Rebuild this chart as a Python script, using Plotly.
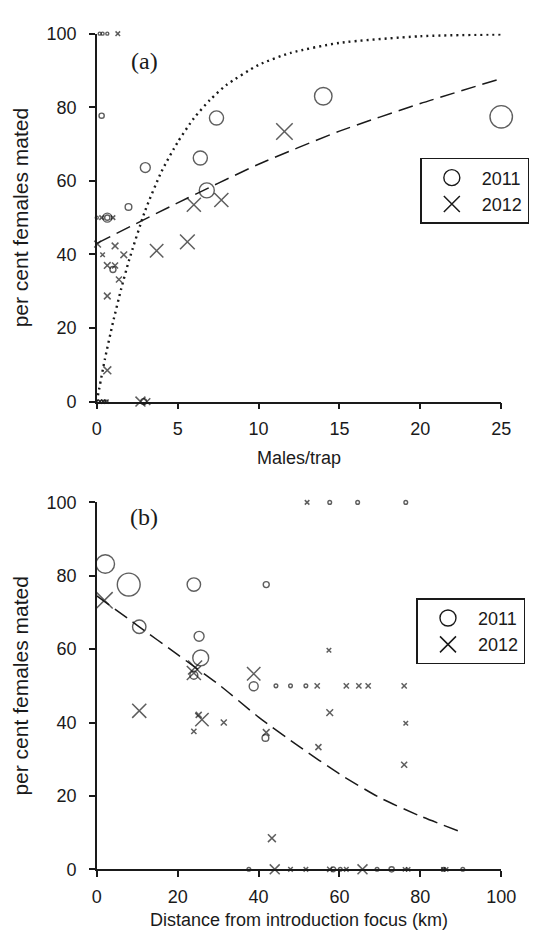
import math
import plotly.graph_objects as go

# ---------------- Panel (a): males per trap vs per cent females mated ----------------
a2011_males = [25.0, 14.0, 7.4, 6.4, 6.8, 3.0, 1.96, 0.3, 0.65, 0.65, 1.0,
               0.18, 0.36, 0.65, 0.0, 0.1, 0.3, 0.45, 0.6, 2.9]
a2011_pct = [77.4, 83.0, 77.1, 66.2, 57.4, 63.6, 52.9, 77.7, 50.0, 50.0, 35.9,
             100, 100, 100, 50, 0, 0, 0, 0, 0]
a2011_n = [56, 34, 22, 22, 25, 11, 5, 3, 9, 3, 4,
           1, 1, 1, 1, 1, 1, 1, 1, 4]

a2012_males = [11.6, 6.0, 7.7, 3.7, 5.6, 0.05, 1.13, 0.36, 0.65, 1.13, 1.67,
               1.37, 0.65, 0.65, 1.3, 0.3, 1.0, 2.7, 3.1, 0.2, 0.4, 0.6]
a2012_pct = [73.4, 53.5, 54.8, 41.0, 43.4, 42.8, 42.3, 39.9, 37.0, 37.0, 39.9,
             33.2, 28.7, 8.5, 100, 50, 50, 0, 0, 0, 0, 0]
a2012_n = [30, 22, 22, 20, 24, 5, 5, 2.3, 5, 4, 5,
           4, 5, 7, 2.3, 2.3, 2.3, 11, 5, 2, 2, 2]

# fitted curves
a_dot_x = [0, 0.5, 1, 1.5, 2, 3, 4, 5, 6, 7, 8, 10, 12, 15, 20, 25]
a_dot_y = [0, 11.5, 21.5, 30.5, 38.5, 52, 62.5, 70.5, 77, 82, 86, 91.5, 94.8, 97.5, 99.3, 99.8]
a_dash_x = [0, 5, 10, 15, 20, 25]
a_dash_y = [43, 54, 64.5, 73.5, 81, 87.8]

# ---------------- Panel (b): distance from introduction focus ----------------
b2011_dist = [2.1, 7.9, 24.0, 41.9, 10.5, 25.3, 25.7, 24.0, 38.8,
              44.3, 47.9, 51.7, 41.7, 57.6, 64.5, 76.4,
              37.6, 58.5, 60.2, 69.3, 72.9, 85.7, 90.5]
b2011_pct = [83.2, 77.6, 77.6, 77.6, 66.1, 63.5, 57.6, 52.9, 49.9,
             50, 50, 50, 35.8, 100, 100, 100,
             0, 0, 0, 0, 0, 0, 0]
b2011_n = [38, 58, 20, 4, 20, 11, 28, 7, 9,
           1.5, 1.5, 1.5, 5, 1.5, 1.5, 1.5,
           1.5, 2.5, 1.5, 1.5, 3, 1.5, 1.5]

b2012_dist = [1.9, 10.5, 24.3, 24.0, 38.8, 26.0, 25.2, 24.0, 31.4, 41.9,
              57.6, 54.8, 76.0, 76.4, 57.4, 52.0,
              54.5, 61.7, 64.8, 67.1, 76.0, 43.3,
              44.0, 47.9, 51.7, 57.6, 61.7, 65.7, 76.2, 77.0, 85.7, 86.4]
b2012_pct = [73.3, 43.2, 55.0, 53.5, 53.3, 40.8, 42.1, 37.6, 40.0, 37.3,
             42.7, 33.3, 28.5, 39.8, 59.7, 100,
             50, 50, 50, 50, 50, 8.5,
             0, 0, 0, 0, 0, 0, 0, 0, 0, 0]
b2012_n = [30, 22, 22, 22, 20, 20, 4, 3, 4, 5,
           5, 4, 4, 2.3, 2.3, 2.3,
           3, 3, 3, 3, 3, 7,
           11, 2.3, 2.3, 3, 2.3, 11, 2, 2, 2, 2]

b_dash_x = [0, 10, 20, 30, 40, 50, 60, 70, 80, 90.5]
b_dash_y = [74.5, 66.5, 58.5, 50.5, 41.5, 33.5, 26, 19.5, 14.5, 10]

years = ["2011", "2012"]
a_ticks = [0, 5, 10, 15, 20, 25]
b_ticks = [0, 20, 40, 60, 80, 100]
y_ticks = [0, 20, 40, 60, 80, 100]

# ---------------- figure ----------------
W, H = 540, 932
INK = "#1a1a1a"


def diam(n):
    return [3.0 * math.sqrt(v) for v in n]


fig = go.Figure()

circle_style = dict(symbol="circle-open", color=INK, line=dict(width=1.4, color=INK))
cross_style = dict(symbol="x-thin-open", color=INK, line=dict(width=1.5, color=INK))
curve_dot = dict(color=INK, width=2.4, dash="2px,4px", shape="spline", smoothing=0.6)
curve_dash = dict(color=INK, width=1.5, dash="15px,7px", shape="spline", smoothing=0.6)

# panel (a)
fig.add_trace(go.Scatter(x=a_dot_x, y=a_dot_y, mode="lines", line=curve_dot,
                         xaxis="x", yaxis="y", showlegend=False, hoverinfo="skip"))
fig.add_trace(go.Scatter(x=a_dash_x, y=a_dash_y, mode="lines", line=curve_dash,
                         xaxis="x", yaxis="y", showlegend=False, hoverinfo="skip"))
fig.add_trace(go.Scatter(x=a2011_males, y=a2011_pct, mode="markers", name=years[0],
                         marker=dict(size=diam(a2011_n), **circle_style), cliponaxis=False,
                         xaxis="x", yaxis="y", showlegend=False))
fig.add_trace(go.Scatter(x=a2012_males, y=a2012_pct, mode="markers", name=years[1],
                         marker=dict(size=diam(a2012_n), **cross_style), cliponaxis=False,
                         xaxis="x", yaxis="y", showlegend=False))
fig.add_trace(go.Scatter(x=[None], y=[None], mode="markers", name=years[0],
                         marker=dict(size=16, **circle_style), xaxis="x", yaxis="y", legend="legend"))
fig.add_trace(go.Scatter(x=[None], y=[None], mode="markers", name=years[1],
                         marker=dict(size=16, **cross_style), xaxis="x", yaxis="y", legend="legend"))

# panel (b)
fig.add_trace(go.Scatter(x=b_dash_x, y=b_dash_y, mode="lines", line=curve_dash,
                         xaxis="x2", yaxis="y2", showlegend=False, hoverinfo="skip"))
fig.add_trace(go.Scatter(x=b2011_dist, y=b2011_pct, mode="markers", name=years[0],
                         marker=dict(size=diam(b2011_n), **circle_style), cliponaxis=False,
                         xaxis="x2", yaxis="y2", showlegend=False))
fig.add_trace(go.Scatter(x=b2012_dist, y=b2012_pct, mode="markers", name=years[1],
                         marker=dict(size=diam(b2012_n), **cross_style), cliponaxis=False,
                         xaxis="x2", yaxis="y2", showlegend=False))
fig.add_trace(go.Scatter(x=[None], y=[None], mode="markers", name=years[0],
                         marker=dict(size=16, **circle_style), xaxis="x2", yaxis="y2", legend="legend2"))
fig.add_trace(go.Scatter(x=[None], y=[None], mode="markers", name=years[1],
                         marker=dict(size=16, **cross_style), xaxis="x2", yaxis="y2", legend="legend2"))

FONT = "Liberation Sans, Arial, sans-serif"
SERIF = "Liberation Serif, Times New Roman, serif"
axis_common = dict(showline=True, linecolor=INK, linewidth=1.5, ticks="outside", ticklen=6, tickwidth=1.5,
                   tickcolor=INK, showgrid=False, zeroline=False, tickfont=dict(family=FONT, size=18, color=INK),
                   fixedrange=True)
x_common = dict(ticklabelstandoff=4, **axis_common)
y_common = dict(ticklabelstandoff=9, **axis_common)

xd = [87 / W, 507 / W]
legend_common = dict(xanchor="left", yanchor="top", bordercolor=INK, borderwidth=1.5, bgcolor="white",
                     font=dict(family=FONT, size=18, color=INK), itemsizing="trace", itemwidth=50,
                     tracegroupgap=0)
fig.update_layout(
    width=W, height=H, margin=dict(l=0, r=0, t=0, b=0),
    paper_bgcolor="white", plot_bgcolor="white",
    font=dict(family=FONT, color=INK),
    xaxis=dict(domain=xd, range=[0, 25], tickvals=a_ticks, anchor="y",
               title=dict(text="Males/trap", font=dict(size=18), standoff=13), **x_common),
    yaxis=dict(domain=[1 - 392 / H, 1 - 16 / H], range=[0, 100], tickvals=y_ticks, anchor="x",
               title=dict(text="per cent females mated", font=dict(size=21), standoff=12), **y_common),
    xaxis2=dict(domain=xd, range=[0, 100], tickvals=b_ticks, anchor="y2",
                title=dict(text="Distance from introduction focus (km)", font=dict(size=18), standoff=8), **x_common),
    yaxis2=dict(domain=[1 - 870 / H, 1 - 495 / H], range=[0, 100], tickvals=y_ticks, anchor="x2",
                title=dict(text="per cent females mated", font=dict(size=21), standoff=12), **y_common),
    legend=dict(x=423 / W, y=1 - 143 / H, **legend_common),
    legend2=dict(x=419 / W, y=1 - 593 / H, **legend_common),
    annotations=[
        dict(text="(a)", x=0.117, y=0.926, xref="x domain", yref="y domain", showarrow=False,
             xanchor="center", yanchor="middle", font=dict(family=SERIF, size=24, color=INK)),
        dict(text="(b)", x=0.117, y=0.96, xref="x2 domain", yref="y2 domain", showarrow=False,
             xanchor="center", yanchor="middle", font=dict(family=SERIF, size=24, color=INK)),
    ],
)

fig.write_html("out.html")
